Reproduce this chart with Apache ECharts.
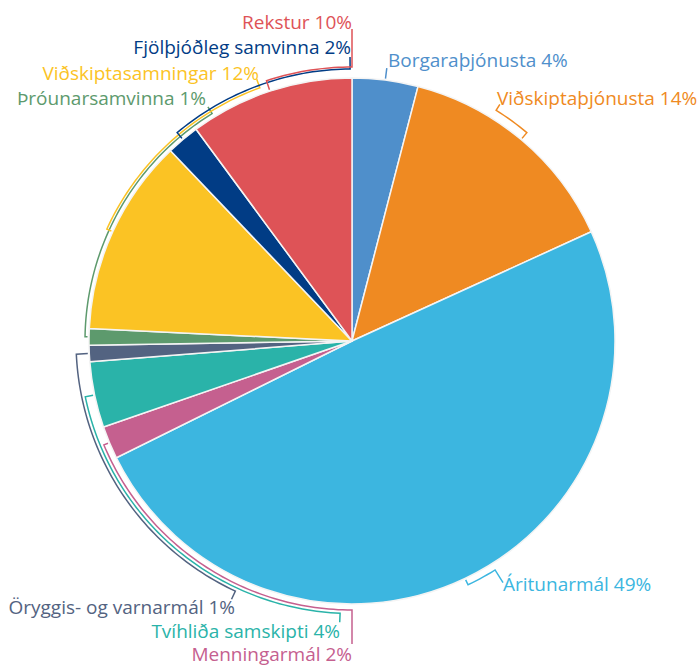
<!DOCTYPE html>
<html>
<head>
<meta charset="utf-8">
<script src="https://cdn.jsdelivr.net/npm/echarts@6/dist/echarts.min.js"></script>
<style>
  html, body { margin: 0; padding: 0; background: #ffffff; }
  #chart { width: 700px; height: 666px; }
</style>
</head>
<body>
<div id="chart"></div>
<script>
// Slices, clockwise from 12 o'clock
const categories = [
  'Borgaraþjónusta',
  'Viðskiptaþjónusta',
  'Áritunarmál',
  'Menningarmál',
  'Tvíhliða samskipti',
  'Öryggis- og varnarmál',
  'Þróunarsamvinna',
  'Viðskiptasamningar',
  'Fjölþjóðleg samvinna',
  'Rekstur'
];
const shares = [4, 14, 49, 2, 4, 1, 1, 12, 2, 10];
const palette = [
  '#4f8fcb', '#ef8a22', '#3cb6e0', '#c5608f', '#2ab3a9',
  '#536381', '#5d9a6d', '#fbc324', '#013c85', '#de5357'
];

// Label anchors and leader routing for each slice.
// ring: offset of the leader arc beyond the pie edge
// to:   angle (degrees clockwise from 12 o'clock) where the arc stops; null = no arc
// out:  length of the final radial stroke towards the label
const placement = [
  { x: 388, y: 60,  align: 'left',  ring: 12,  to: null,  out: 0  },
  { x: 497, y: 98,  align: 'left',  ring: 9,   to: 32,    out: 7  },
  { x: 503, y: 584, align: 'left',  ring: 7,   to: 148,   out: 15 },
  { x: 352, y: 654, align: 'right', ring: 6,   to: 180,   out: 34 },
  { x: 340, y: 631, align: 'right', ring: 9.5, to: 182.5, out: 9  },
  { x: 235, y: 607, align: 'right', ring: 13,  to: 205,   out: 9  },
  { x: 206, y: 98,  align: 'right', ring: 4,   to: 328.4, out: 8  },
  { x: 259, y: 73,  align: 'right', ring: 6.5, to: 340,   out: 9  },
  { x: 351, y: 47,  align: 'right', ring: 9,   to: 359.6, out: 12 },
  { x: 352, y: 22,  align: 'right', ring: 11,  to: 360,   out: 38 }
];

const FONT = "'Open Sans', 'Noto Sans', sans-serif";

const chart = echarts.init(document.getElementById('chart'), null, { renderer: 'svg' });

const option = {
  animation: false,
  backgroundColor: '#ffffff',
  series: [{
    type: 'pie',
    center: [352, 341],
    radius: 263,
    startAngle: 90,
    clockwise: true,
    avoidLabelOverlap: false,
    data: categories.map((name, i) => ({
      name: name,
      value: shares[i],
      itemStyle: { color: palette[i] },
      label: { color: palette[i] }
    })),
    itemStyle: { borderColor: '#f4f4f4', borderWidth: 1.5 },
    label: {
      show: true,
      position: 'outside',
      formatter: p => p.name + ' ' + p.value + '%',
      fontFamily: FONT,
      fontSize: 19,
      lineHeight: 20
    },
    labelLine: { show: false },
    labelLayout: p => {
      const s = placement[p.dataIndex];
      return { x: s.x, y: s.y, align: s.align, verticalAlign: 'middle', hideOverlap: false };
    },
    emphasis: { disabled: true }
  }]
};

chart.setOption(option);

// Leader lines follow the slice geometry that the pie series laid out
const sliceData = chart.getModel().getSeriesByIndex(0).getData();
const norm = d => ((d % 360) + 360) % 360;
const leaders = [];
shares.forEach((v, i) => {
  const L = sliceData.getItemLayout(i);
  const s = placement[i];
  const toRad = d => (d - 90) * Math.PI / 180;
  const pt = (r, deg) => [L.cx + r * Math.cos(toRad(deg)), L.cy + r * Math.sin(toRad(deg))];
  const midDeg = norm(((L.startAngle + L.endAngle) / 2) * 180 / Math.PI + 90);
  const ringR = L.r + s.ring;
  const pts = [pt(L.r + 1.5, midDeg), pt(ringR, midDeg)];
  if (s.to !== null) {
    // go the short way round from the slice middle to the label side
    const span = ((s.to - midDeg + 540) % 360) - 180;
    const n = Math.max(2, Math.ceil(Math.abs(span)));
    for (let k = 1; k <= n; k++) pts.push(pt(ringR, midDeg + span * k / n));
    pts.push(pt(ringR + s.out, midDeg + span));
  }
  leaders.push({
    type: 'polyline',
    silent: true,
    z: 1,
    shape: { points: pts },
    style: { stroke: palette[i], lineWidth: 1.5, fill: null }
  });
});

chart.setOption({ graphic: { elements: leaders } });
</script>
</body>
</html>
